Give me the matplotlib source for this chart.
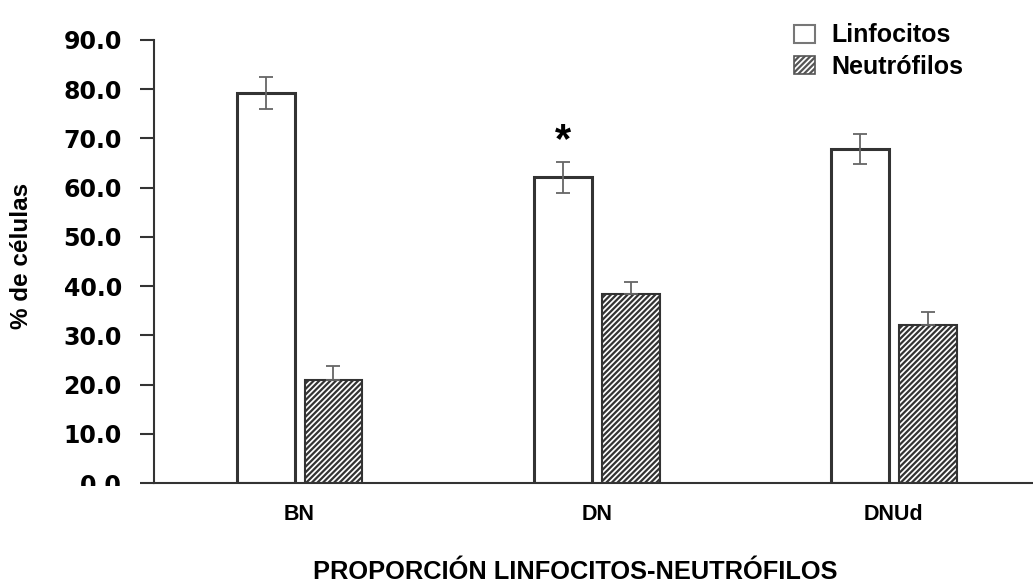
import numpy as np
import matplotlib
matplotlib.use("Agg")
import matplotlib.pyplot as plt
from matplotlib.patches import Patch, Rectangle
from matplotlib.transforms import IdentityTransform

# datos
grupos = ["BN", "DN", "DNUd"]
linfocitos = [79.2, 62.1, 67.9]
linfocitos_err = [3.2, 3.2, 3.0]
neutrofilos = [20.9, 38.4, 32.1]
neutrofilos_err = [2.8, 2.5, 2.7]
yticks = [0, 10, 20, 30, 40, 50, 60, 70, 80, 90]

plt.rcParams["hatch.linewidth"] = 1.6
plt.rcParams["hatch.color"] = "#111111"

fig = plt.figure(figsize=(10.33, 5.83), dpi=100)
ax = fig.add_axes([0.1488, 0.1715, 0.8512, 0.7599])

x = np.arange(len(grupos))
w = 0.195
off = 0.114
err_style = dict(ecolor="#666666", elinewidth=1.3, capsize=5, capthick=1.3)

ax.bar(x - off, linfocitos, w, color="white", edgecolor="#333333", linewidth=2.2,
       yerr=linfocitos_err, error_kw=err_style)
ax.bar(x + off, neutrofilos, w, color="white", edgecolor="#333333", linewidth=1.5, hatch="//////",
       yerr=[[0] * 3, neutrofilos_err], error_kw=err_style)

# asterisco sobre DN
ax.text(x[1] - off, 69.5, "*", ha="center", va="center", fontsize=30, fontweight="bold",
        family="Liberation Sans")

ax.set_xlim(-0.491, 2.468)
ax.set_ylim(0, 90)
ax.set_yticks(yticks)
ax.set_yticklabels([f"{v:.1f}" for v in yticks], fontsize=17, fontweight="bold", family="DejaVu Sans")
ax.tick_params(axis="y", length=10, width=1.5, color="#333333", pad=13)
ax.set_xticks(x)
ax.set_xticklabels(grupos, fontsize=15.5, fontweight="bold", family="Liberation Sans")
ax.tick_params(axis="x", length=0, pad=15)

for s in ["top", "right"]:
    ax.spines[s].set_visible(False)
for s in ["left", "bottom"]:
    ax.spines[s].set_color("#333333")
    ax.spines[s].set_linewidth(1.5)

fig.text(22 / 1033, 1 - 256 / 583, "% de células", rotation=90, ha="center", va="center",
         fontsize=17.5, fontweight="bold", family="Liberation Sans")
fig.text(575 / 1033, 1 - 572 / 583, "PROPORCIÓN LINFOCITOS-NEUTRÓFILOS", ha="center", va="center",
         fontsize=18.3, fontweight="bold", family="Liberation Sans")

handles = [Patch(facecolor="white", edgecolor="#777777", linewidth=1.5),
           Patch(facecolor="white", edgecolor="#555555", linewidth=1.2, hatch="//////")]
fig.legend(handles, ["Linfocitos", "Neutrófilos"], loc="upper left",
           bbox_to_anchor=(771 / 1033, 1 - 1 / 583), frameon=False,
           prop=dict(family="Liberation Sans", weight="bold", size=18),
           handlelength=0.85, handleheight=0.75, handletextpad=0.65, labelspacing=0.3)

# la etiqueta 0.0 aparece recortada por el eje en el original
clip = Rectangle((0, 583 - 486), 1033, 600, transform=IdentityTransform())
for lab in ax.get_yticklabels():
    if lab.get_text() == "0.0":
        lab.set_clip_path(clip)

fig.savefig("out.png", dpi=100)
